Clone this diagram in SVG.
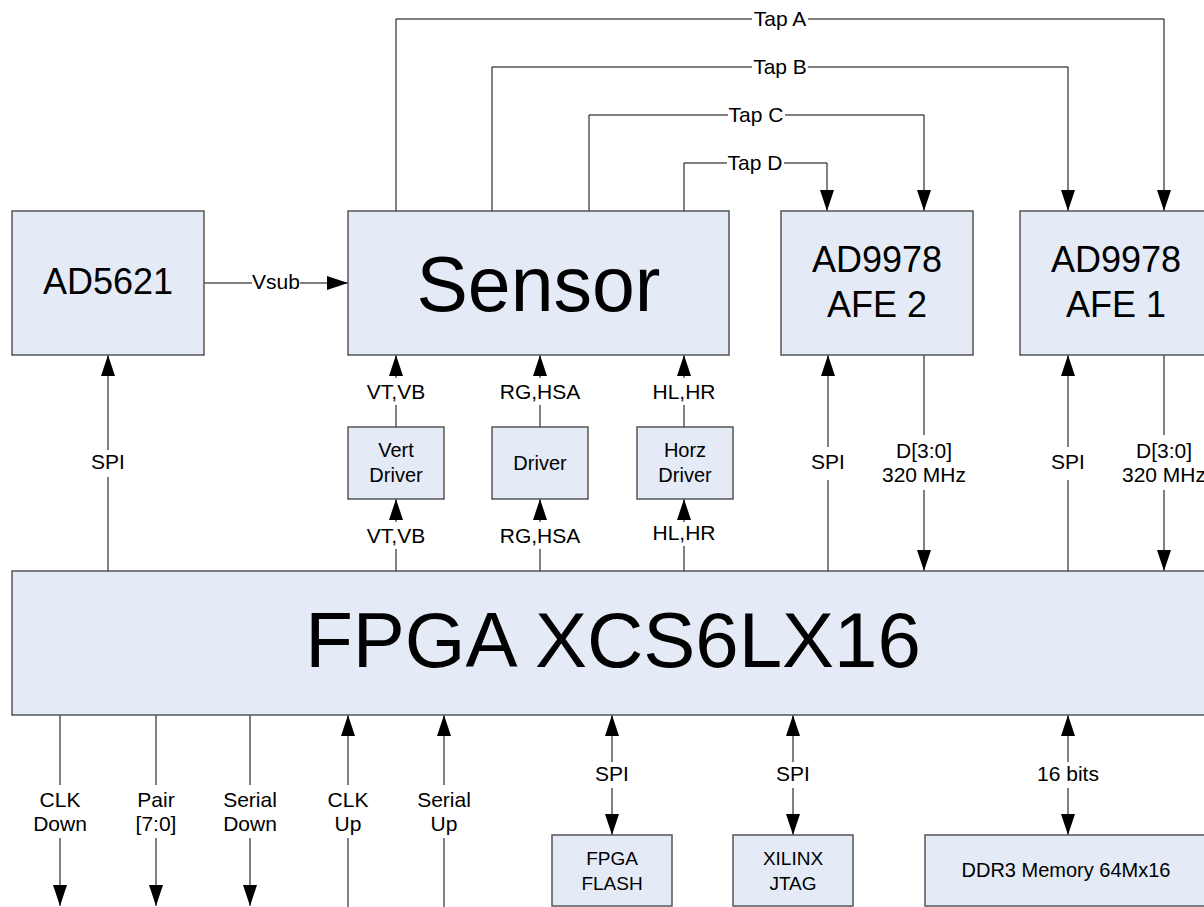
<svg xmlns="http://www.w3.org/2000/svg" width="1204" height="907" viewBox="0 0 1204 907">
<defs>
<style>
.box{fill:#E4EBF6;stroke:#555555;stroke-width:1.5}
.c{fill:none;stroke:#000;stroke-width:1}
.a{marker-end:url(#arr)}
.t{font-family:"Liberation Sans",Arial,sans-serif;fill:#000;text-anchor:middle}
.l{font-size:21px}
.s{font-size:20px}
.m{font-size:36px}
.b{font-size:77px}
</style>
<marker id="arr" viewBox="0 0 21 14" markerWidth="21" markerHeight="14" refX="21" refY="7" orient="auto" markerUnits="userSpaceOnUse">
<path d="M0,0 L21,7 L0,14 z" fill="#000"/>
</marker>
</defs>
<rect width="1204" height="907" fill="#fff"/>

<g id="connectors">
<path class="c" d="M396,211 V19 H752"/>
<path class="c a" d="M808,19 H1164 V211"/>
<path class="c" d="M492,211 V67 H752"/>
<path class="c a" d="M808,67 H1068 V211"/>
<path class="c" d="M589,211 V115 H728"/>
<path class="c a" d="M785,115 H924 V211"/>
<path class="c" d="M684,211 V163 H727"/>
<path class="c a" d="M784,163 H827 V211"/>
<text class="t l" x="780" y="26">Tap A</text>
<text class="t l" x="780" y="74">Tap B</text>
<text class="t l" x="756" y="122">Tap C</text>
<text class="t l" x="755" y="170">Tap D</text>
<path class="c" d="M204,283 H252"/>
<path class="c a" d="M300,283 H348"/>
<text class="t l" x="276" y="289">Vsub</text>
<path class="c" d="M108,571 V477"/>
<path class="c a" d="M108,450 V355"/>
<text class="t l" x="108" y="469">SPI</text>
<path class="c" d="M396,427 V405"/>
<path class="c a" d="M396,378 V355"/>
<text class="t l" x="396" y="399">VT,VB</text>
<path class="c" d="M540,427 V405"/>
<path class="c a" d="M540,378 V355"/>
<text class="t l" x="540" y="399">RG,HSA</text>
<path class="c" d="M684,427 V405"/>
<path class="c a" d="M684,378 V355"/>
<text class="t l" x="684" y="399">HL,HR</text>
<path class="c" d="M396,571 V549"/>
<path class="c a" d="M396,522 V499"/>
<text class="t l" x="396" y="543">VT,VB</text>
<path class="c" d="M540,571 V549"/>
<path class="c a" d="M540,522 V499"/>
<text class="t l" x="540" y="543">RG,HSA</text>
<path class="c" d="M684,571 V546"/>
<path class="c a" d="M684,522 V499"/>
<text class="t l" x="684" y="540">HL,HR</text>
<path class="c" d="M828,571 V480"/>
<path class="c a" d="M828,447 V355"/>
<text class="t l" x="828" y="469">SPI</text>
<path class="c" d="M924,355 V435"/>
<path class="c a" d="M924,490 V571"/>
<text class="t l" x="924" y="458">D[3:0]</text>
<text class="t l" x="924" y="482">320 MHz</text>
<path class="c" d="M1068,571 V480"/>
<path class="c a" d="M1068,447 V355"/>
<text class="t l" x="1068" y="469">SPI</text>
<path class="c" d="M1164,355 V435"/>
<path class="c a" d="M1164,490 V571"/>
<text class="t l" x="1164" y="458">D[3:0]</text>
<text class="t l" x="1164" y="482">320 MHz</text>
<path class="c" d="M60,715 V785"/>
<path class="c a" d="M60,838 V906"/>
<text class="t l" x="60" y="807">CLK</text>
<text class="t l" x="60" y="831">Down</text>
<path class="c" d="M156,715 V785"/>
<path class="c a" d="M156,838 V906"/>
<text class="t l" x="156" y="807">Pair</text>
<text class="t l" x="156" y="831">[7:0]</text>
<path class="c" d="M250,715 V785"/>
<path class="c a" d="M250,838 V906"/>
<text class="t l" x="250" y="807">Serial</text>
<text class="t l" x="250" y="831">Down</text>
<path class="c" d="M348,907 V838"/>
<path class="c a" d="M348,785 V715"/>
<text class="t l" x="348" y="807">CLK</text>
<text class="t l" x="348" y="831">Up</text>
<path class="c" d="M444,907 V838"/>
<path class="c a" d="M444,785 V715"/>
<text class="t l" x="444" y="807">Serial</text>
<text class="t l" x="444" y="831">Up</text>
<path class="c a" d="M612,762 V715"/>
<path class="c a" d="M612,788 V835"/>
<text class="t l" x="612" y="781">SPI</text>
<path class="c a" d="M793,762 V715"/>
<path class="c a" d="M793,788 V835"/>
<text class="t l" x="793" y="781">SPI</text>
<path class="c a" d="M1068,762 V715"/>
<path class="c a" d="M1068,788 V835"/>
<text class="t l" x="1068" y="781">16 bits</text>
</g>

<g id="ad5621"><rect class="box" x="12" y="211" width="192" height="144"/><text class="t m" x="108" y="294">AD5621</text></g>
<g id="sensor"><rect class="box" x="348" y="211" width="381" height="144"/><text class="t b" x="538.5" y="311">Sensor</text></g>
<g id="afe2"><rect class="box" x="781" y="211" width="192" height="144"/><text class="t m" x="877" y="272">AD9978</text><text class="t m" x="877" y="317">AFE 2</text></g>
<g id="afe1"><rect class="box" x="1020" y="211" width="192" height="144"/><text class="t m" x="1116" y="272">AD9978</text><text class="t m" x="1116" y="317">AFE 1</text></g>
<g id="vert-driver"><rect class="box" x="348" y="427" width="96" height="72"/><text class="t s" x="396" y="457">Vert</text><text class="t s" x="396" y="482">Driver</text></g>
<g id="driver"><rect class="box" x="492" y="427" width="96" height="72"/><text class="t s" x="540" y="470">Driver</text></g>
<g id="horz-driver"><rect class="box" x="637" y="427" width="96" height="72"/><text class="t s" x="685" y="457">Horz</text><text class="t s" x="685" y="482">Driver</text></g>
<g id="fpga"><rect class="box" x="12" y="571" width="1202" height="144"/><text class="t" style="font-size:78px" x="613" y="667">FPGA XCS6LX16</text></g>
<g id="flash"><rect class="box" x="552" y="835" width="120" height="71"/><text class="t" style="font-size:19px" x="612" y="865">FPGA</text><text class="t" style="font-size:19px" x="612" y="890">FLASH</text></g>
<g id="jtag"><rect class="box" x="733" y="835" width="120" height="71"/><text class="t" style="font-size:19px" x="793" y="865">XILINX</text><text class="t" style="font-size:19px" x="793" y="890">JTAG</text></g>
<g id="ddr3"><rect class="box" x="925" y="835" width="285" height="71"/><text class="t s" x="1066" y="877">DDR3 Memory 64Mx16</text></g>
</svg>
